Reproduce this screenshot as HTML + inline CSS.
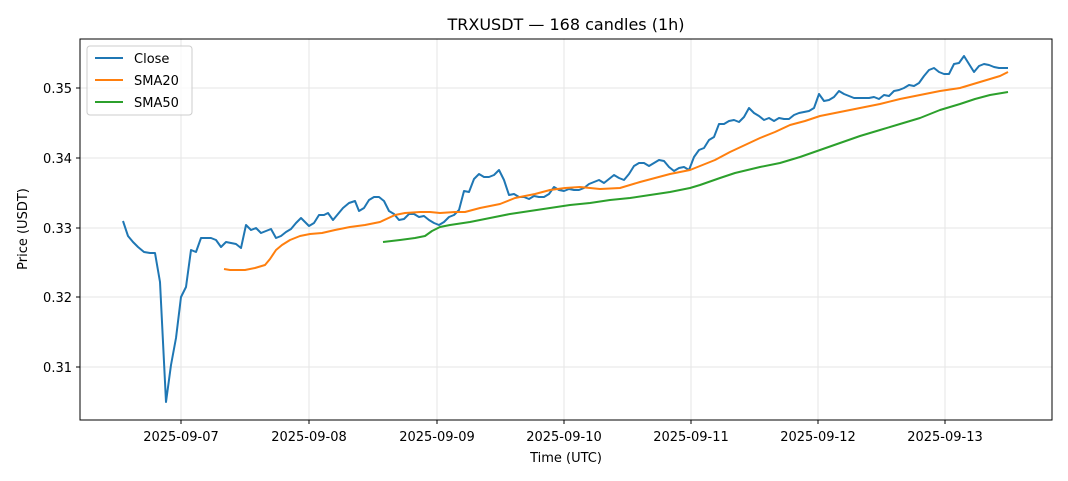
<!DOCTYPE html>
<html><head><meta charset="utf-8"><style>body{margin:0;background:#fff}svg{display:block;font-family:"DejaVu Sans","Liberation Sans",sans-serif}</style></head><body>
<svg width="1068" height="481" viewBox="0 0 1068 481">
<rect width="1068" height="481" fill="#fff"/>
<g stroke="#e6e6e6" stroke-width="1">
<line x1="181" y1="39" x2="181" y2="420"/><line x1="309" y1="39" x2="309" y2="420"/><line x1="437" y1="39" x2="437" y2="420"/><line x1="564" y1="39" x2="564" y2="420"/><line x1="691" y1="39" x2="691" y2="420"/><line x1="818" y1="39" x2="818" y2="420"/><line x1="945" y1="39" x2="945" y2="420"/>
<line x1="80" y1="88" x2="1052" y2="88"/><line x1="80" y1="158" x2="1052" y2="158"/><line x1="80" y1="228" x2="1052" y2="228"/><line x1="80" y1="297" x2="1052" y2="297"/><line x1="80" y1="367" x2="1052" y2="367"/>
</g>
<g fill="none" stroke-width="2" stroke-linejoin="round">
<polyline stroke="#1f77b4" points="123,221 128,236 133,242 138,247 144,252 150,253 155,253 160,282 166,402 171,365 176,338 181,297 186,287 191,250 196,252 201,238 206,238 211,238 216,240 221,247 226,242 231,243 236,244 241,248 246,225 251,230 256,228 261,233 266,231 271,229 276,238 281,236 286,232 291,229 296,223 301,218 305,222 309,226 314,223 319,215 324,215 328,213 333,220 338,214 343,208 349,203 355,201 359,211 364,208 369,200 374,197 379,197 384,201 389,211 394,214 399,220 404,219 409,214 414,214 419,217 424,216 429,220 434,223 439,225 444,222 449,217 454,215 459,210 464,191 469,192 474,179 479,174 484,177 489,177 494,175 499,170 504,180 509,195 514,194 519,197 524,197 529,199 534,196 539,197 544,197 549,194 554,187 559,190 564,191 569,189 574,190 579,190 584,188 589,184 594,182 599,180 604,183 609,179 614,175 619,178 624,180 629,174 634,166 639,163 644,163 649,166 654,163 659,160 664,161 669,167 674,171 679,168 684,167 689,170 694,157 699,150 704,148 709,140 714,137 719,124 724,124 729,121 734,120 739,122 744,117 749,108 754,113 759,116 764,120 769,118 774,121 779,118 784,119 789,119 794,115 799,113 804,112 809,111 814,108 819,94 824,101 829,100 834,97 839,91 844,94 849,96 854,98 859,98 864,98 869,98 874,97 879,99 884,95 889,96 894,91 899,90 904,88 909,85 914,86 919,83 924,76 929,70 934,68 939,72 944,74 949,74 954,64 959,63 964,56 969,64 974,72 979,66 984,64 989,65 994,67 999,68 1003,68 1008,68"/>
<polyline stroke="#ff7f0e" points="224,269 230,270 245,270 255,268 265,265 270,259 276,250 282,245 290,240 300,236 310,234 322,233 335,230 350,227 365,225 380,222 395,215 405,213 420,212 430,212 440,213 455,212 465,212 480,208 500,204 515,198 535,194 550,190 565,188 580,187 600,189 620,188 640,182 655,178 670,174 690,170 700,166 715,160 730,152 745,145 760,138 775,132 790,125 805,121 820,116 840,112 860,108 880,104 900,99 920,95 940,91 960,88 980,82 1000,76 1008,72"/>
<polyline stroke="#2ca02c" points="383,242 400,240 415,238 425,236 432,231 440,227 450,225 470,222 490,218 510,214 530,211 550,208 570,205 590,203 610,200 630,198 650,195 670,192 690,188 700,185 720,178 735,173 760,167 780,163 800,157 820,150 840,143 860,136 880,130 900,124 920,118 940,110 960,104 975,99 990,95 1008,92"/>
</g>
<rect x="80" y="39" width="972" height="381" fill="none" stroke="#000" stroke-width="1"/>
<g stroke="#000"><line x1="181" y1="420" x2="181" y2="424"/><line x1="309" y1="420" x2="309" y2="424"/><line x1="437" y1="420" x2="437" y2="424"/><line x1="564" y1="420" x2="564" y2="424"/><line x1="691" y1="420" x2="691" y2="424"/><line x1="818" y1="420" x2="818" y2="424"/><line x1="945" y1="420" x2="945" y2="424"/>
<line x1="76" y1="88" x2="80" y2="88"/><line x1="76" y1="158" x2="80" y2="158"/><line x1="76" y1="228" x2="80" y2="228"/><line x1="76" y1="297" x2="80" y2="297"/><line x1="76" y1="367" x2="80" y2="367"/></g>
<g font-size="13" fill="#000" text-anchor="middle">
<text x="181" y="441">2025-09-07</text><text x="309" y="441">2025-09-08</text><text x="437" y="441">2025-09-09</text><text x="564" y="441">2025-09-10</text><text x="691" y="441">2025-09-11</text><text x="818" y="441">2025-09-12</text><text x="945" y="441">2025-09-13</text>
<text x="566" y="462">Time (UTC)</text>
<text x="566" y="30" font-size="16">TRXUSDT — 168 candles (1h)</text>
<text transform="translate(27,229) rotate(-90)">Price (USDT)</text>
</g>
<g font-size="13" fill="#000" text-anchor="end">
<text x="72" y="93">0.35</text><text x="72" y="163">0.34</text><text x="72" y="233">0.33</text><text x="72" y="302">0.32</text><text x="72" y="372">0.31</text>
</g>
<rect x="87" y="46" width="105" height="69" rx="3" fill="#fff" fill-opacity="0.8" stroke="#ccc"/>
<g stroke-width="2"><line x1="95" y1="58" x2="123" y2="58" stroke="#1f77b4"/><line x1="95" y1="80" x2="123" y2="80" stroke="#ff7f0e"/><line x1="95" y1="102" x2="123" y2="102" stroke="#2ca02c"/></g>
<g font-size="13" fill="#000"><text x="134" y="63">Close</text><text x="134" y="85">SMA20</text><text x="134" y="107">SMA50</text></g>
</svg>
</body></html>
